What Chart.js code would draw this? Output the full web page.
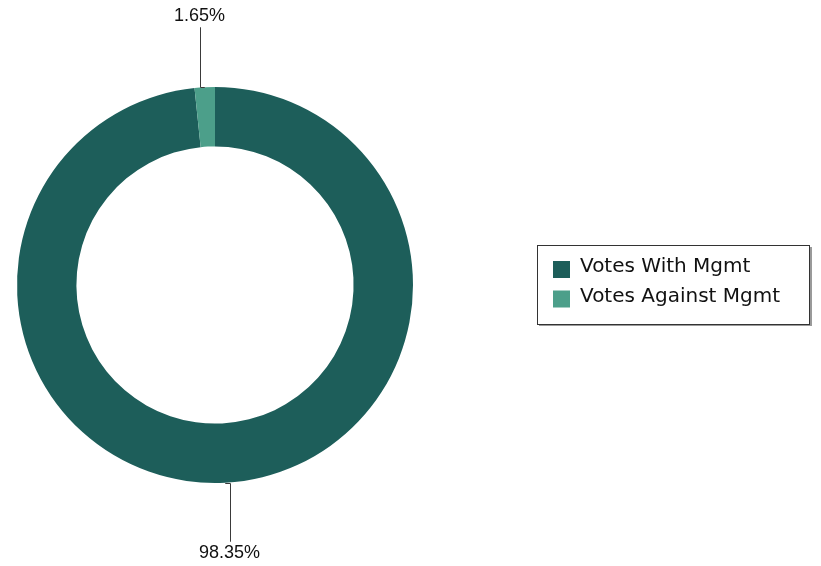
<!DOCTYPE html>
<html>
<head>
<meta charset="utf-8">
<script src="https://cdn.jsdelivr.net/npm/chart.js@4/dist/chart.umd.min.js"></script>
<style>
html,body{margin:0;padding:0;background:#fff;}
canvas{display:block;}
</style>
</head>
<body>
<canvas id="c" width="821" height="566"></canvas>
<script>
const categories = ['Votes With Mgmt', 'Votes Against Mgmt'];
const values = [98.35, 1.65];
const valueLabels = ['98.35%', '1.65%'];
const colors = ['#1d5e5a', '#4c9f8a'];

const leaderPlugin = {
  id: 'leaders',
  afterDatasetsDraw(chart) {
    const ctx = chart.ctx;
    const meta = chart.getDatasetMeta(0);
    ctx.save();
    ctx.strokeStyle = '#3a3a3a';
    ctx.lineWidth = 1;
    ctx.fillStyle = '#111';
    ctx.font = '18px "Liberation Sans", Arial, sans-serif';
    ctx.textAlign = 'center';
    meta.data.forEach((arc, i) => {
      const p = arc.getProps(['x', 'y', 'startAngle', 'endAngle', 'outerRadius'], true);
      const mid = (p.startAngle + p.endAngle) / 2;
      const px = p.x + Math.cos(mid) * p.outerRadius;
      const py = p.y + Math.sin(mid) * p.outerRadius;
      const vx = Math.round(px + (px - p.x) * 0.42) + 0.5;
      const up = py < p.y;
      const ey = up ? py - 60 : py + 59;
      ctx.beginPath();
      ctx.moveTo(px, Math.round(py) + 0.5);
      ctx.lineTo(vx, Math.round(py) + 0.5);
      ctx.lineTo(vx, ey);
      ctx.stroke();
      ctx.textBaseline = 'alphabetic';
      ctx.fillText(valueLabels[i], vx - 1, up ? ey - 6 : ey + 16);
    });
    ctx.restore();
  }
};

const legendPlugin = {
  id: 'boxLegend',
  afterDraw(chart) {
    const ctx = chart.ctx;
    ctx.save();
    // shadow
    ctx.fillStyle = '#9a9a9a';
    ctx.fillRect(810, 247, 2, 79);
    ctx.fillRect(539, 325, 273, 1);
    ctx.fillStyle = '#fff';
    ctx.fillRect(537, 245, 273, 80);
    ctx.strokeStyle = '#333';
    ctx.lineWidth = 1;
    ctx.strokeRect(537.5, 245.5, 272, 79);
    ctx.font = '20px "DejaVu Sans", Verdana, sans-serif';
    ctx.textBaseline = 'middle';
    ctx.textAlign = 'left';
    categories.forEach((c, i) => {
      const y = 261 + i * 29.5;
      ctx.fillStyle = colors[i];
      ctx.fillRect(553, y, 17, 17);
      ctx.fillStyle = '#111';
      ctx.fillText(c, 580, y + 6);
    });
    ctx.restore();
  }
};

new Chart(document.getElementById('c'), {
  type: 'doughnut',
  data: {
    labels: categories,
    datasets: [{
      data: values,
      backgroundColor: colors,
      borderWidth: 0,
      hoverOffset: 0
    }]
  },
  options: {
    responsive: false,
    animation: false,
    cutout: '70%',
    layout: { padding: { left: 17, right: 408, top: 87, bottom: 83 } },
    plugins: {
      legend: { display: false },
      tooltip: { enabled: false }
    }
  },
  plugins: [leaderPlugin, legendPlugin]
});
</script>
</body>
</html>
